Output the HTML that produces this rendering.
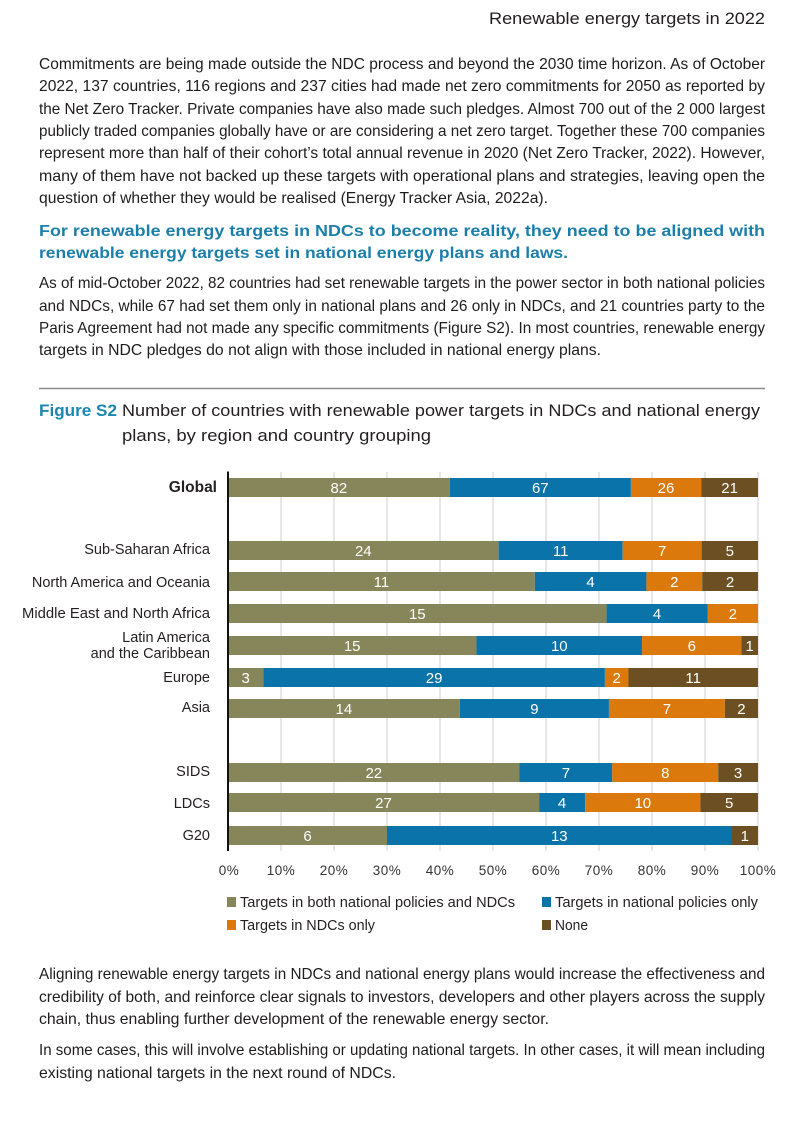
<!DOCTYPE html>
<html>
<head>
<meta charset="utf-8">
<style>
html,body{margin:0;padding:0;background:#fff;}
svg{display:block;}
text{font-family:"Liberation Sans",sans-serif;}
.p{font-size:16px;fill:#1f1c1d;}
.b{font-size:16px;font-weight:bold;fill:#1c7faa;}
.v{font-size:15px;fill:#fff;text-anchor:middle;}
.c{font-size:14.5px;fill:#231f20;text-anchor:end;}
.t{font-size:13.5px;fill:#333;text-anchor:middle;letter-spacing:0.5px;}
.l{font-size:14.5px;fill:#231f20;}
</style>
</head>
<body>
<svg width="800" height="1123" viewBox="0 0 800 1123" xmlns="http://www.w3.org/2000/svg">
<rect width="800" height="1123" fill="#fff"/>

<text x="765" y="24" text-anchor="end" font-size="17" fill="#231f20" textLength="276" lengthAdjust="spacingAndGlyphs">Renewable energy targets in 2022</text>

<g class="p">
<text x="39" y="69" textLength="726" lengthAdjust="spacingAndGlyphs">Commitments are being made outside the NDC process and beyond the 2030 time horizon. As of October</text>
<text x="39" y="91" textLength="726" lengthAdjust="spacingAndGlyphs">2022, 137 countries, 116 regions and 237 cities had made net zero commitments for 2050 as reported by</text>
<text x="39" y="114" textLength="726" lengthAdjust="spacingAndGlyphs">the Net Zero Tracker. Private companies have also made such pledges. Almost 700 out of the 2 000 largest</text>
<text x="39" y="136" textLength="726" lengthAdjust="spacingAndGlyphs">publicly traded companies globally have or are considering a net zero target. Together these 700 companies</text>
<text x="39" y="158" textLength="726" lengthAdjust="spacingAndGlyphs">represent more than half of their cohort’s total annual revenue in 2020 (Net Zero Tracker, 2022). However,</text>
<text x="39" y="181" textLength="726" lengthAdjust="spacingAndGlyphs">many of them have not backed up these targets with operational plans and strategies, leaving open the</text>
<text x="39" y="203" textLength="509" lengthAdjust="spacingAndGlyphs">question of whether they would be realised (Energy Tracker Asia, 2022a).</text>
</g>

<g class="b">
<text x="39" y="236" textLength="726" lengthAdjust="spacingAndGlyphs">For renewable energy targets in NDCs to become reality, they need to be aligned with</text>
<text x="39" y="258" textLength="529" lengthAdjust="spacingAndGlyphs">renewable energy targets set in national energy plans and laws.</text>
</g>

<g class="p">
<text x="39" y="288" textLength="726" lengthAdjust="spacingAndGlyphs">As of mid-October 2022, 82 countries had set renewable targets in the power sector in both national policies</text>
<text x="39" y="311" textLength="726" lengthAdjust="spacingAndGlyphs">and NDCs, while 67 had set them only in national plans and 26 only in NDCs, and 21 countries party to the</text>
<text x="39" y="333" textLength="726" lengthAdjust="spacingAndGlyphs">Paris Agreement had not made any specific commitments (Figure S2). In most countries, renewable energy</text>
<text x="39" y="355" textLength="562" lengthAdjust="spacingAndGlyphs">targets in NDC pledges do not align with those included in national energy plans.</text>
</g>

<line x1="39" y1="388.5" x2="765" y2="388.5" stroke="#8a8a8a" stroke-width="1.6"/>

<text x="39" y="416" font-size="17" font-weight="bold" fill="#1b86b0" textLength="78" lengthAdjust="spacingAndGlyphs">Figure S2</text>
<text x="122" y="416" font-size="17" fill="#231f20" textLength="638" lengthAdjust="spacingAndGlyphs">Number of countries with renewable power targets in NDCs and national energy</text>
<text x="122" y="441" font-size="17" fill="#231f20" textLength="309" lengthAdjust="spacingAndGlyphs">plans, by region and country grouping</text>

<!-- gridlines -->
<g stroke="#cfcfcf" stroke-width="1">
<line x1="281" y1="472" x2="281" y2="851"/>
<line x1="334" y1="472" x2="334" y2="851"/>
<line x1="387" y1="472" x2="387" y2="851"/>
<line x1="440" y1="472" x2="440" y2="851"/>
<line x1="493" y1="472" x2="493" y2="851"/>
<line x1="546" y1="472" x2="546" y2="851"/>
<line x1="599" y1="472" x2="599" y2="851"/>
<line x1="652" y1="472" x2="652" y2="851"/>
<line x1="705" y1="472" x2="705" y2="851"/>
<line x1="758" y1="472" x2="758" y2="851"/>
</g>

<!-- bars -->
<g>
<rect x="228" y="478" width="221.73" height="19" fill="#87865a"/>
<rect x="449.73" y="478" width="181.17" height="19" fill="#0a73aa"/>
<rect x="630.9" y="478" width="70.31" height="19" fill="#dc790d"/>
<rect x="701.21" y="478" width="56.79" height="19" fill="#6c5023"/>

<rect x="228" y="541" width="270.64" height="19" fill="#87865a"/>
<rect x="498.64" y="541" width="124.04" height="19" fill="#0a73aa"/>
<rect x="622.68" y="541" width="78.94" height="19" fill="#dc790d"/>
<rect x="701.62" y="541" width="56.38" height="19" fill="#6c5023"/>

<rect x="228" y="572" width="306.84" height="19" fill="#87865a"/>
<rect x="534.84" y="572" width="111.58" height="19" fill="#0a73aa"/>
<rect x="646.42" y="572" width="55.79" height="19" fill="#dc790d"/>
<rect x="702.21" y="572" width="55.79" height="19" fill="#6c5023"/>

<rect x="228" y="604" width="378.57" height="19" fill="#87865a"/>
<rect x="606.57" y="604" width="100.95" height="19" fill="#0a73aa"/>
<rect x="707.52" y="604" width="50.48" height="19" fill="#dc790d"/>

<rect x="228" y="636" width="248.44" height="19" fill="#87865a"/>
<rect x="476.44" y="636" width="165.62" height="19" fill="#0a73aa"/>
<rect x="642.06" y="636" width="99.38" height="19" fill="#dc790d"/>
<rect x="741.44" y="636" width="16.56" height="19" fill="#6c5023"/>

<rect x="228" y="668" width="35.33" height="19" fill="#87865a"/>
<rect x="263.33" y="668" width="341.56" height="19" fill="#0a73aa"/>
<rect x="604.89" y="668" width="23.55" height="19" fill="#dc790d"/>
<rect x="628.44" y="668" width="129.56" height="19" fill="#6c5023"/>

<rect x="228" y="699" width="231.88" height="19" fill="#87865a"/>
<rect x="459.88" y="699" width="149.06" height="19" fill="#0a73aa"/>
<rect x="608.94" y="699" width="115.94" height="19" fill="#dc790d"/>
<rect x="724.88" y="699" width="33.12" height="19" fill="#6c5023"/>

<rect x="228" y="763" width="291.5" height="19" fill="#87865a"/>
<rect x="519.5" y="763" width="92.75" height="19" fill="#0a73aa"/>
<rect x="612.25" y="763" width="106" height="19" fill="#dc790d"/>
<rect x="718.25" y="763" width="39.75" height="19" fill="#6c5023"/>

<rect x="228" y="793" width="311.09" height="19" fill="#87865a"/>
<rect x="539.09" y="793" width="46.08" height="19" fill="#0a73aa"/>
<rect x="585.17" y="793" width="115.22" height="19" fill="#dc790d"/>
<rect x="700.39" y="793" width="57.61" height="19" fill="#6c5023"/>

<rect x="228" y="826" width="159" height="19" fill="#87865a"/>
<rect x="387" y="826" width="344.5" height="19" fill="#0a73aa"/>
<rect x="731.5" y="826" width="26.5" height="19" fill="#6c5023"/>
</g>

<!-- axis -->
<line x1="228" y1="471.5" x2="228" y2="851" stroke="#111" stroke-width="2"/>

<!-- values -->
<g class="v">
<text x="338.9" y="493">82</text>
<text x="540.3" y="493">67</text>
<text x="666" y="493">26</text>
<text x="729.6" y="493">21</text>

<text x="363.3" y="556">24</text>
<text x="560.7" y="556">11</text>
<text x="662.2" y="556">7</text>
<text x="729.8" y="556">5</text>

<text x="381.4" y="587">11</text>
<text x="590.6" y="587">4</text>
<text x="674.3" y="587">2</text>
<text x="730.1" y="587">2</text>

<text x="417.3" y="619">15</text>
<text x="657" y="619">4</text>
<text x="732.8" y="619">2</text>

<text x="352.2" y="651">15</text>
<text x="559.3" y="651">10</text>
<text x="691.8" y="651">6</text>
<text x="749.7" y="651">1</text>

<text x="245.7" y="683">3</text>
<text x="434.1" y="683">29</text>
<text x="616.7" y="683">2</text>
<text x="693.2" y="683">11</text>

<text x="343.9" y="714">14</text>
<text x="534.4" y="714">9</text>
<text x="666.9" y="714">7</text>
<text x="741.4" y="714">2</text>

<text x="373.8" y="778">22</text>
<text x="565.9" y="778">7</text>
<text x="665.3" y="778">8</text>
<text x="738.1" y="778">3</text>

<text x="383.5" y="808">27</text>
<text x="562.1" y="808">4</text>
<text x="642.8" y="808">10</text>
<text x="729.2" y="808">5</text>

<text x="307.5" y="841">6</text>
<text x="559.3" y="841">13</text>
<text x="744.8" y="841">1</text>
</g>

<!-- category labels -->
<text x="217" y="492" font-size="15.5" font-weight="bold" fill="#231f20" text-anchor="end">Global</text>
<g class="c">
<text x="210" y="554">Sub-Saharan Africa</text>
<text x="210" y="587">North America and Oceania</text>
<text x="210" y="618" textLength="188" lengthAdjust="spacingAndGlyphs">Middle East and North Africa</text>
<text x="210" y="642">Latin America</text>
<text x="210" y="658">and the Caribbean</text>
<text x="210" y="682">Europe</text>
<text x="210" y="712">Asia</text>
<text x="210" y="776">SIDS</text>
<text x="210" y="808">LDCs</text>
<text x="210" y="840">G20</text>
</g>

<!-- ticks -->
<g class="t">
<text x="229" y="875">0%</text>
<text x="281" y="875">10%</text>
<text x="334" y="875">20%</text>
<text x="387" y="875">30%</text>
<text x="440" y="875">40%</text>
<text x="493" y="875">50%</text>
<text x="546" y="875">60%</text>
<text x="599" y="875">70%</text>
<text x="652" y="875">80%</text>
<text x="705" y="875">90%</text>
<text x="758" y="875">100%</text>
</g>

<!-- legend -->
<rect x="227" y="897" width="9" height="10" fill="#87865a"/>
<text class="l" x="240" y="907" textLength="275" lengthAdjust="spacingAndGlyphs">Targets in both national policies and NDCs</text>
<rect x="542" y="897" width="9" height="10" fill="#0a73aa"/>
<text class="l" x="555" y="907" textLength="203" lengthAdjust="spacingAndGlyphs">Targets in national policies only</text>
<rect x="227" y="920" width="9" height="10" fill="#dc790d"/>
<text class="l" x="240" y="930" textLength="135" lengthAdjust="spacingAndGlyphs">Targets in NDCs only</text>
<rect x="542" y="920" width="9" height="10" fill="#6c5023"/>
<text class="l" x="555" y="930" textLength="33" lengthAdjust="spacingAndGlyphs">None</text>

<g class="p">
<text x="39" y="979" textLength="726" lengthAdjust="spacingAndGlyphs">Aligning renewable energy targets in NDCs and national energy plans would increase the effectiveness and</text>
<text x="39" y="1002" textLength="726" lengthAdjust="spacingAndGlyphs">credibility of both, and reinforce clear signals to investors, developers and other players across the supply</text>
<text x="39" y="1024" textLength="510" lengthAdjust="spacingAndGlyphs">chain, thus enabling further development of the renewable energy sector.</text>
<text x="39" y="1055" textLength="726" lengthAdjust="spacingAndGlyphs">In some cases, this will involve establishing or updating national targets. In other cases, it will mean including</text>
<text x="39" y="1078" textLength="357" lengthAdjust="spacingAndGlyphs">existing national targets in the next round of NDCs.</text>
</g>
</svg>
</body>
</html>
